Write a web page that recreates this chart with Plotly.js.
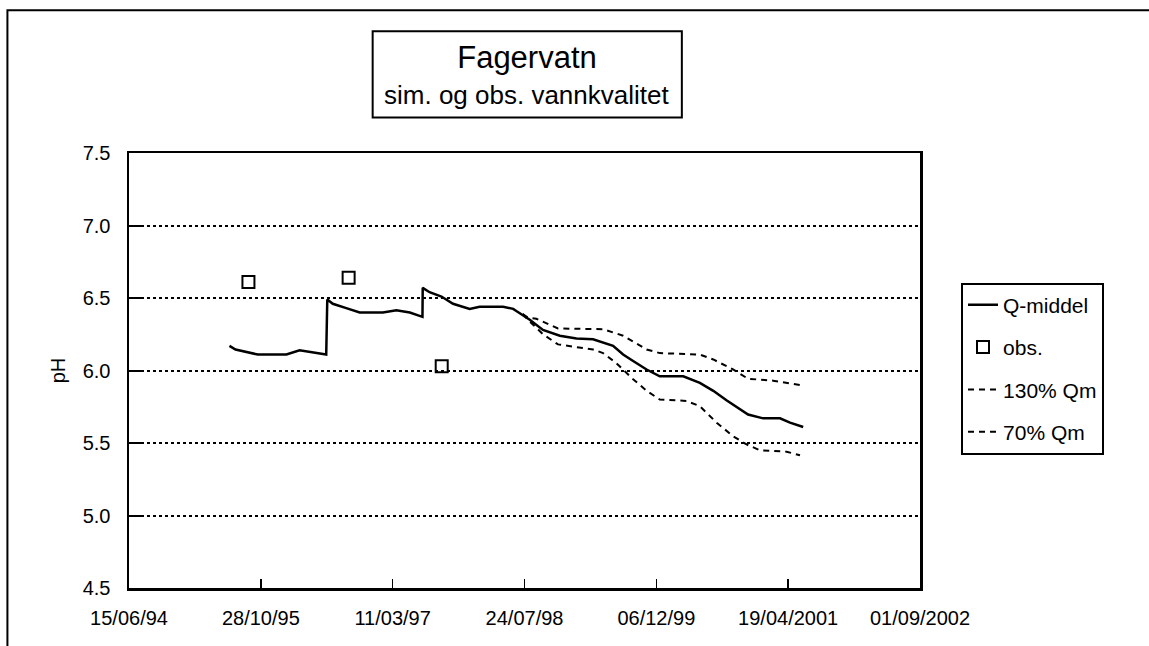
<!DOCTYPE html>
<html>
<head>
<meta charset="utf-8">
<script src="https://cdn.plot.ly/plotly-3.0.1.min.js"></script>
<style>
  html, body { margin: 0; padding: 0; background: #fff; }
  #chart { width: 1149px; height: 646px; }
</style>
</head>
<body>
<div id="chart"></div>
<script>
// Simulert pH (Q-middel) og grenser for 130% / 70% av middelvannføring
const qmDates = [
    '1995-07-01', '1995-07-24', '1995-10-17', '1996-02-02', '1996-03-23', '1996-05-19', '1996-07-02',
    '1996-07-06', '1996-07-27', '1996-09-16', '1996-11-06', '1997-02-02', '1997-03-25', '1997-05-15',
    '1997-07-02', '1997-07-03', '1997-07-29', '1997-09-12', '1997-10-26', '1997-12-28', '1998-02-04',
    '1998-05-04', '1998-06-11', '1998-06-23', '1998-08-13', '1998-10-02', '1998-12-05', '1999-02-06',
    '1999-04-10', '1999-06-25', '1999-08-02', '1999-09-09', '1999-10-30', '1999-12-19', '2000-03-17',
    '2000-05-19', '2000-07-09', '2000-08-28', '2000-10-05', '2000-11-18', '2001-01-14', '2001-03-19',
    '2001-04-26', '2001-06-15'
];
const qmValues = [
    6.17, 6.145, 6.11, 6.11, 6.14, 6.125, 6.11,
    6.49, 6.46, 6.43, 6.40, 6.40, 6.415, 6.40,
    6.37, 6.57, 6.54, 6.51, 6.46, 6.425, 6.44,
    6.44, 6.425, 6.41, 6.35, 6.28, 6.24, 6.22,
    6.215, 6.17, 6.11, 6.065, 6.007, 5.96, 5.96,
    5.915, 5.86, 5.795, 5.75, 5.696, 5.67, 5.67,
    5.64, 5.61
];

const q130Dates = [
    '1998-07-17', '1998-08-06', '1998-09-07', '1998-11-28', '1999-05-18', '1999-08-02', '1999-10-30',
    '1999-12-19', '2000-05-19', '2000-07-09', '2000-09-22', '2000-11-18', '2001-02-21', '2001-06-03'
];
const q130Values = [6.39, 6.365, 6.357, 6.29, 6.285, 6.24, 6.145, 6.12, 6.11, 6.076, 6.007, 5.943, 5.93, 5.90];

const q70Dates = [
    '1998-07-17', '1998-08-06', '1998-10-02', '1998-11-28', '1999-04-10', '1999-05-18', '1999-07-06',
    '1999-09-09', '1999-10-30', '1999-12-19', '2000-03-29', '2000-05-19', '2000-07-22', '2000-09-22',
    '2000-11-12', '2001-01-02', '2001-04-13', '2001-06-03'
];
const q70Values = [
    6.39, 6.35, 6.25, 6.18, 6.145, 6.12, 6.053,
    5.94, 5.86, 5.80, 5.79, 5.754, 5.64, 5.547,
    5.49, 5.45, 5.44, 5.415
];

// Observerte verdier
const obsDates = ['1995-09-11', '1996-09-25', '1997-09-13'];
const obsValues = [6.61, 6.64, 6.03];

// Akse-etiketter (hver 500. dag)
const tickDates = ['1994-06-15', '1995-10-28', '1997-03-11', '1998-07-24', '1999-12-06', '2001-04-19', '2002-09-01'];
const tickLabels = ['15/06/94', '28/10/95', '11/03/97', '24/07/98', '06/12/99', '19/04/2001', '01/09/2002'];

document.addEventListener('DOMContentLoaded', function() {
    const font = 'Arial, "Liberation Sans", sans-serif';

    const traces = [
        {
            type: 'scatter', mode: 'lines', name: 'Q-middel', legendgroup: 'a',
            x: qmDates, y: qmValues,
            line: { color: '#000', width: 2.5 }
        },
        {
            type: 'scatter', mode: 'markers', name: 'obs.', legendgroup: 'b',
            x: obsDates, y: obsValues,
            marker: { symbol: 'square-open', size: 12, color: '#000', line: { width: 2, color: '#000' } }
        },
        {
            type: 'scatter', mode: 'lines', name: '130% Qm', legendgroup: 'c',
            x: q130Dates, y: q130Values,
            line: { color: '#000', width: 2, dash: '6px,5px' }
        },
        {
            type: 'scatter', mode: 'lines', name: '70% Qm', legendgroup: 'd',
            x: q70Dates, y: q70Values,
            line: { color: '#000', width: 2, dash: '6px,5px' }
        }
    ];

    const layout = {
        width: 1149,
        height: 646,
        margin: { l: 129, r: 229, t: 153, b: 58 },
        paper_bgcolor: '#fff',
        plot_bgcolor: '#fff',
        font: { family: font, color: '#000', size: 20 },
        title: {
            text: 'Fagervatn',
            font: { family: font, size: 31, color: '#000' },
            x: 527 / 1149, xanchor: 'center', xref: 'container',
            y: 1 - 57 / 646, yanchor: 'middle', yref: 'container'
        },
        annotations: [{
            text: 'sim. og obs. vannkvalitet',
            xref: 'paper', yref: 'paper',
            x: (527 - 129.5) / 790.5, y: (588 - 96) / 434.5,
            xanchor: 'center', yanchor: 'middle',
            showarrow: false,
            font: { family: font, size: 26, color: '#000' }
        }],
        shapes: [
            // ramme rundt tittelen
            {
                type: 'rect', xref: 'paper', yref: 'paper',
                x0: (373 - 129.5) / 790.5, x1: (682 - 129.5) / 790.5,
                y0: (588 - 118) / 434.5, y1: (588 - 32) / 434.5,
                line: { color: '#000', width: 2 }
            },
            // ytre ramme
            {
                type: 'rect', xref: 'paper', yref: 'paper',
                x0: (8 - 129.5) / 790.5, x1: (1160 - 129.5) / 790.5,
                y0: (588 - 660) / 434.5, y1: (588 - 11) / 434.5,
                line: { color: '#000', width: 2 }
            }
        ],
        xaxis: {
            type: 'date',
            range: ['1994-06-15', '2002-09-01'],
            tickmode: 'array',
            tickvals: tickDates,
            ticktext: tickLabels,
            ticks: 'inside',
            ticklen: 9,
            tickwidth: 1.5,
            tickcolor: '#000',
            ticklabelstandoff: 10,
            tickfont: { family: font, size: 20, color: '#000' },
            showgrid: false,
            zeroline: false,
            showline: true,
            linecolor: '#000',
            linewidth: 2.5,
            mirror: true
        },
        yaxis: {
            range: [4.5, 7.5],
            dtick: 0.5,
            tick0: 4.5,
            tickformat: '.1f',
            ticks: 'inside',
            ticklen: 12,
            tickwidth: 2,
            tickcolor: '#000',
            ticklabelstandoff: 12,
            tickfont: { family: font, size: 20, color: '#000' },
            showgrid: true,
            gridcolor: '#000',
            gridwidth: 2,
            griddash: 'dot',
            zeroline: false,
            showline: true,
            linecolor: '#000',
            linewidth: 2.5,
            mirror: true,
            title: { text: 'pH', font: { family: font, size: 20, color: '#000' }, standoff: 12 }
        },
        showlegend: true,
        legend: {
            x: (961 - 129.5) / 790.5,
            y: (588 - 283) / 434.5,
            xanchor: 'left',
            yanchor: 'top',
            traceorder: 'grouped',
            tracegroupgap: 12,
            entrywidth: 120,
            bgcolor: '#fff',
            bordercolor: '#000',
            borderwidth: 2,
            font: { family: font, size: 21, color: '#000' }
        }
    };

    Plotly.newPlot('chart', traces, layout, { displayModeBar: false, staticPlot: true });
});
</script>
</body>
</html>
